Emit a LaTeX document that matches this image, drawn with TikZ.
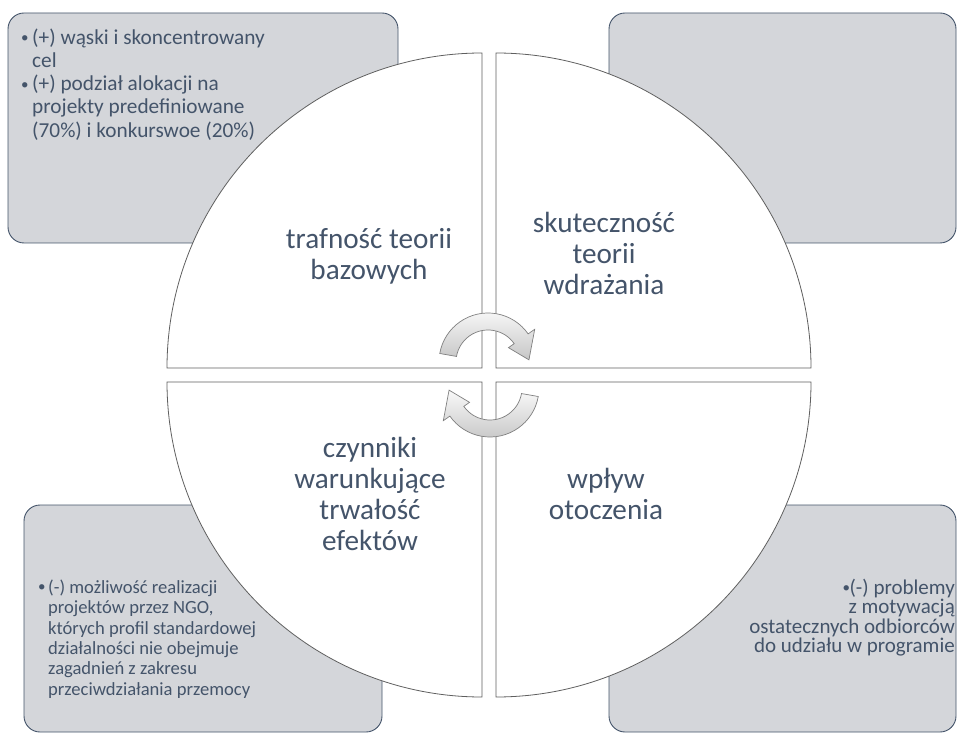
\documentclass[tikz,border=0pt]{standalone}
\usepackage{fontspec}
\setmainfont{Carlito}
\definecolor{slate}{RGB}{68,84,106}
\definecolor{boxgray}{RGB}{212,214,218}
\definecolor{rimgray}{RGB}{95,95,95}
\newcommand{\bul}[1]{\makebox[#1][l]{\raisebox{1.5pt}{\fontsize{15}{15}\selectfont •}}}
\newcommand{\ind}[1]{\hspace*{#1}}
\begin{document}
\begin{tikzpicture}[x=1pt,y=1pt,
    infobox/.style={draw=slate, fill=boxgray, line width=0.9pt, rounded corners=16pt},
    quarter/.style={draw=rimgray, fill=white, line width=0.8pt},
    cyclearrow/.style={draw=gray, line width=0.7pt, top color=gray!5, bottom color=gray!45},
    bigtext/.style={text=slate, align=center, inner sep=0pt, font=\fontsize{29.2}{31}\selectfont},
    note/.style={text=slate, inner sep=0pt, font=\fontsize{21.3}{23.3}\selectfont},
    smallnote/.style={text=slate, inner sep=0pt, font=\fontsize{18.6}{20.4}\selectfont},
    rightnote/.style={text=slate, inner sep=0pt, font=\fontsize{21}{19.5}\selectfont}]
    \useasboundingbox (0,0) rectangle (957,734);
    % boxes behind the circle
    \draw[infobox] (8,491) rectangle (398,721);
    \draw[infobox] (609,491) rectangle (956,721);
    \draw[infobox] (24,2) rectangle (382,229);
    \draw[infobox] (609,2) rectangle (956,229);
    % four quarters of the circle
    \draw[quarter] (482,366) -- ++(-315,0) arc[start angle=180, end angle=90, radius=315] -- cycle;
    \draw[quarter] (496,366) -- ++(0,315) arc[start angle=90, end angle=0, radius=315] -- cycle;
    \draw[quarter] (482,352) -- ++(-315,0) arc[start angle=180, end angle=270, radius=315] -- cycle;
    \draw[quarter] (496,352) -- ++(315,0) arc[start angle=0, end angle=-90, radius=315] -- cycle;
    % the two turning arrows
    \foreach \cx/\cy/\rot in {488/372/0, 490/346/180} {
        \begin{scope}[shift={(\cx,\cy)}, rotate=\rot]
            \path[cyclearrow] (170:49) arc[start angle=170, end angle=35, radius=49] -- (35:57) -- (3:41)
                -- (35:25) -- (35:32) arc[start angle=35, end angle=170, radius=32] -- cycle;
        \end{scope}
    }
    % labels of the quarters
    \node[bigtext] (trafnosc) at (369,478) {trafność teorii\\bazowych};
    \node[bigtext] (skutecznosc) at (604,481) {skuteczność\\teorii\\wdrażania};
    \node[bigtext] (czynniki) at (370,240) {czynniki\\warunkujące\\trwałość\\efektów};
    \node[bigtext] (wplyw) at (606,240) {wpływ\\otoczenia};
    % texts in the boxes
    \node[note, anchor=north west, align=left] (plusy) at (21,705.7)
        {\bul{11pt}(+) wąski i skoncentrowany\\\ind{11pt}cel\\\bul{11pt}(+) podział alokacji na\\\ind{11pt}projekty predefiniowane\\\ind{11pt}(70\%) i konkurswoe (20\%)};
    \node[smallnote, anchor=north west, align=left] (minusngo) at (38,154.5)
        {\bul{10pt}(-) możliwość realizacji\\\ind{10pt}projektów przez NGO,\\\ind{10pt}których profil standardowej\\\ind{10pt}działalności nie obejmuje\\\ind{10pt}zagadnień z zakresu\\\ind{10pt}przeciwdziałania przemocy};
    \node[rightnote, anchor=north east, align=right] (minusmotyw) at (955,155.5)
        {\bul{7pt}(-) problemy\\z motywacją\\ostatecznych odbiorców\\do udziału w programie};
\end{tikzpicture}
\end{document}
